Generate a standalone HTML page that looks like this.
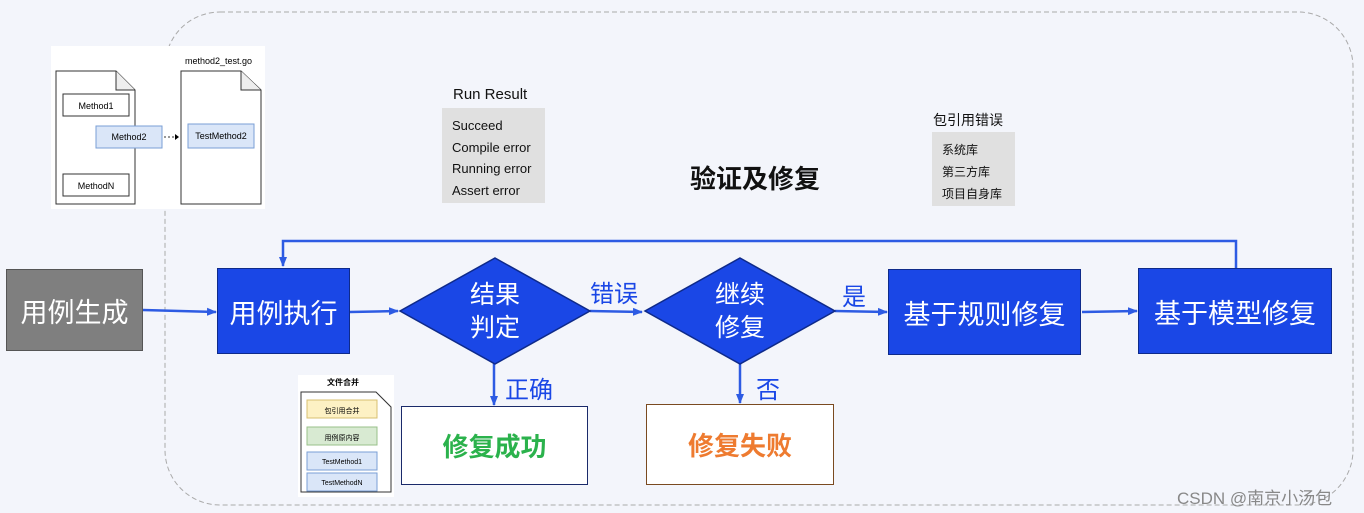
<!DOCTYPE html>
<html><head><meta charset="utf-8"><style>
body{margin:0;width:1364px;height:513px;background:#f3f5fb;position:relative;overflow:hidden;font-family:"Liberation Sans","Noto Sans CJK SC",sans-serif}
.a{position:absolute}
.box{position:absolute;display:flex;align-items:center;justify-content:center;box-sizing:border-box}
.blue{background:#1a47e6;border:1.5px solid #0e2a8a;color:#fff;font-size:27px}
</style></head><body>
<svg class="a" style="left:0;top:0" width="1364" height="513">
<defs><marker id="ar" markerUnits="userSpaceOnUse" markerWidth="10" markerHeight="10" refX="9" refY="5" orient="auto"><path d="M0,1 L10,5 L0,9 z" fill="#2d5be3"/></marker></defs>
<rect x="165" y="12" width="1188" height="493" rx="55" fill="none" stroke="#aaa" stroke-dasharray="5,3"/>
<g stroke="#2d5be3" stroke-width="2.5" fill="none">
<line x1="143" y1="310" x2="216" y2="312" marker-end="url(#ar)"/>
<line x1="350" y1="312" x2="398" y2="311" marker-end="url(#ar)"/>
<line x1="590" y1="311" x2="642" y2="312" marker-end="url(#ar)"/>
<line x1="835" y1="311" x2="887" y2="312" marker-end="url(#ar)"/>
<line x1="1082" y1="312" x2="1137" y2="311" marker-end="url(#ar)"/>
<polyline points="1236,268 1236,241 283,241 283,266" marker-end="url(#ar)"/>
<line x1="494" y1="363" x2="494" y2="405" marker-end="url(#ar)"/>
<line x1="740" y1="363" x2="740" y2="403" marker-end="url(#ar)"/>
</g>
<polygon points="495,258 590,311 495,364 400,311" fill="#1a47e6" stroke="#0e2a8a" stroke-width="1.5"/>
<polygon points="740,258 835,311 740,364 645,311" fill="#1a47e6" stroke="#0e2a8a" stroke-width="1.5"/>
<text x="495" y="303" fill="#fff" font-size="25" text-anchor="middle" font-family="Noto Sans CJK SC">结果</text>
<text x="495" y="336" fill="#fff" font-size="25" text-anchor="middle" font-family="Noto Sans CJK SC">判定</text>
<text x="740" y="303" fill="#fff" font-size="25" text-anchor="middle" font-family="Noto Sans CJK SC">继续</text>
<text x="740" y="336" fill="#fff" font-size="25" text-anchor="middle" font-family="Noto Sans CJK SC">修复</text>
</svg>
<div class="box" style="left:6px;top:269px;width:137px;height:82px;background:#7f7f7f;border:1.5px solid #555;color:#fff;font-size:27px">用例生成</div>
<div class="box blue" style="left:217px;top:268px;width:133px;height:86px">用例执行</div>
<div class="box blue" style="left:888px;top:269px;width:193px;height:86px">基于规则修复</div>
<div class="box blue" style="left:1138px;top:268px;width:194px;height:86px">基于模型修复</div>
<div class="box" style="left:401px;top:406px;width:187px;height:79px;background:#fff;border:1.5px solid #1a2a6a;color:#2bb24c;font-size:26px;font-weight:bold">修复成功</div>
<div class="box" style="left:646px;top:404px;width:188px;height:81px;background:#fff;border:1.5px solid #7a4a20;color:#ee7b30;font-size:26px;font-weight:bold">修复失败</div>
<div class="a" style="left:590px;top:274px;font-size:24px;color:#1a47e6">错误</div>
<div class="a" style="left:842px;top:277px;font-size:24px;color:#1a47e6">是</div>
<div class="a" style="left:505px;top:370px;font-size:24px;color:#1a47e6">正确</div>
<div class="a" style="left:756px;top:370px;font-size:24px;color:#1a47e6">否</div>
<div class="a" style="left:690px;top:159px;font-size:26px;font-weight:bold;color:#111">验证及修复</div>
<div class="a" style="left:453px;top:86px;font-size:15px;color:#111">Run Result</div>
<div class="a" style="left:442px;top:108px;width:103px;height:95px;background:#e0e0e0;font-size:13px;line-height:21.5px;padding:7px 0 0 10px;box-sizing:border-box;color:#111">Succeed<br>Compile error<br>Running error<br>Assert error</div>
<div class="a" style="left:933px;top:110px;font-size:14px;color:#111">包引用错误</div>
<div class="a" style="left:932px;top:132px;width:83px;height:74px;background:#e0e0e0;font-size:12px;line-height:22px;padding:7px 0 0 10px;box-sizing:border-box;color:#111">系统库<br>第三方库<br>项目自身库</div>
<div class="a" style="left:51px;top:46px;width:214px;height:163px;background:#fff"></div>
<svg class="a" style="left:51px;top:46px" width="214" height="163">
<path d="M5,25 H65 L84,44 V158 H5 Z" fill="#fff" stroke="#333"/><path d="M65,25 V44 H84" fill="#eee" stroke="#333"/>
<path d="M130,25 H190 L210,44 V158 H130 Z" fill="#fff" stroke="#333"/><path d="M190,25 V44 H210" fill="#eee" stroke="#333"/>
<rect x="12" y="48" width="66" height="22" fill="#fff" stroke="#333"/>
<rect x="12" y="128" width="66" height="22" fill="#fff" stroke="#333"/>
<rect x="45" y="80" width="66" height="22" fill="#dae6f8" stroke="#7a9fd6"/>
<rect x="137" y="78" width="66" height="24" fill="#dae6f8" stroke="#7a9fd6"/>
<line x1="113" y1="91" x2="125" y2="91" stroke="#333" stroke-dasharray="2,2"/><path d="M124,88 L128,91 L124,94z"/>
<text x="45" y="63" font-size="9" text-anchor="middle">Method1</text>
<text x="45" y="143" font-size="9" text-anchor="middle">MethodN</text>
<text x="78" y="94" font-size="9" text-anchor="middle">Method2</text>
<text x="170" y="93" font-size="9" text-anchor="middle">TestMethod2</text>
<text x="134" y="18" font-size="9">method2_test.go</text>
</svg>
<div class="a" style="left:298px;top:375px;width:96px;height:122px;background:#fff"></div>
<svg class="a" style="left:298px;top:375px" width="96" height="122">
<text x="45" y="10" font-size="8" font-weight="bold" text-anchor="middle" font-family="Noto Sans CJK SC">文件合并</text>
<path d="M3,17 H78 L93,32 V117 H3 Z" fill="#fff" stroke="#333"/>
<rect x="9" y="25" width="70" height="18" fill="#fdf1c4" stroke="#d8c070"/>
<rect x="9" y="52" width="70" height="18" fill="#d8ead2" stroke="#98c08a"/>
<rect x="9" y="77" width="70" height="18" fill="#dae6f8" stroke="#7a9fd6"/>
<rect x="9" y="98" width="70" height="18" fill="#dae6f8" stroke="#7a9fd6"/>
<text x="44" y="38" font-size="7" text-anchor="middle" font-family="Noto Sans CJK SC">包引用合并</text>
<text x="44" y="65" font-size="7" text-anchor="middle" font-family="Noto Sans CJK SC">用例原内容</text>
<text x="44" y="89" font-size="7" text-anchor="middle">TestMethod1</text>
<text x="44" y="110" font-size="7" text-anchor="middle">TestMethodN</text>
</svg>
<div class="a" style="left:1177px;top:484px;font-size:17px;color:#888">CSDN @南京小汤包</div>
</body></html>
